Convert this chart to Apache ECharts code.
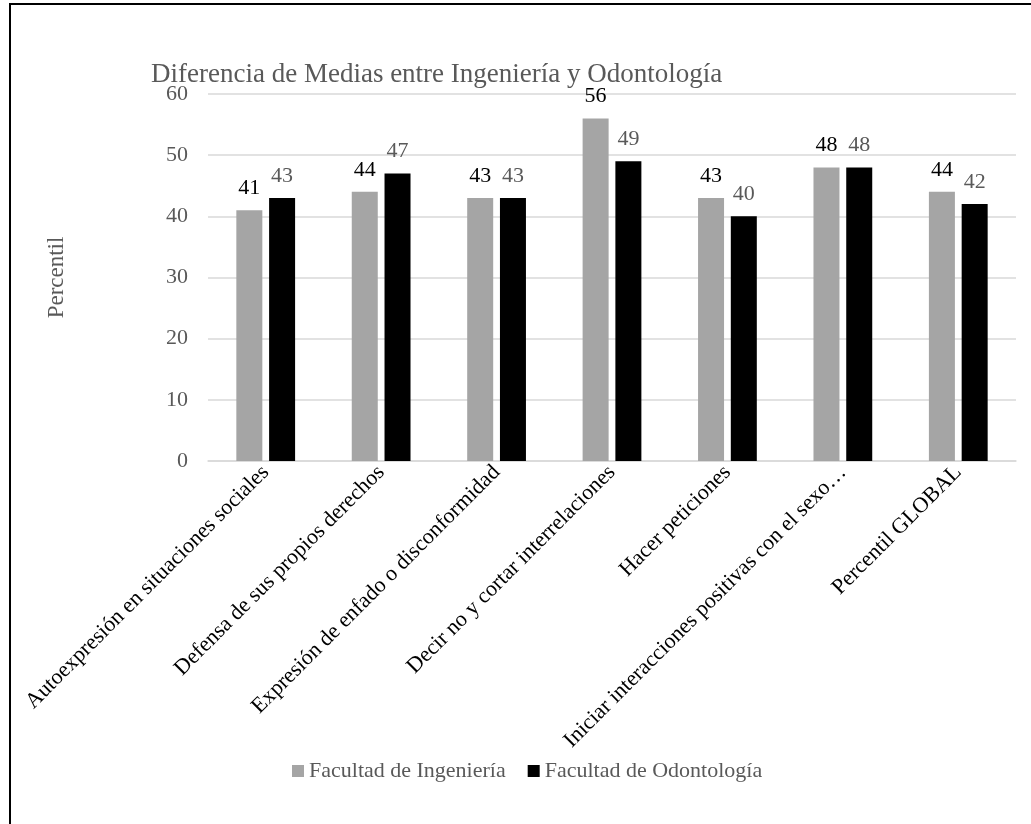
<!DOCTYPE html>
<html>
<head>
<meta charset="utf-8">
<script src="https://cdn.jsdelivr.net/npm/echarts@6/dist/echarts.min.js"></script>
<style>
  html, body { margin: 0; padding: 0; background: #fff; overflow: hidden; }
  .frame { position: absolute; left: 9px; top: 3px; width: 1200px; height: 1000px; border: 2px solid #000; }
  .chartHeight { position: absolute; left: 0; top: 0; width: 1031px; height: 824px; }
</style>
</head>
<body>
<div class="frame"></div>
<div class="chartHeight" id="chart"></div>
<script>
var categories = [
  "Autoexpresión en situaciones sociales",
  "Defensa de sus propios derechos",
  "Expresión de enfado o disconformidad",
  "Decir no y cortar interrelaciones",
  "Hacer peticiones",
  "Iniciar interacciones positivas con el sexo opuesto",
  "Percentil GLOBAL"
];
var ingenieria = [41, 44, 43, 56, 43, 48, 44];
var odontologia = [43, 47, 43, 49, 40, 48, 42];
var yTicks = { min: 0, max: 60, interval: 10 };

var serif = "Liberation Serif";
var myChart = echarts.init(document.getElementById("chart"));
myChart.setOption({
  animation: false,
  textStyle: { fontFamily: serif },
  title: {
    text: "Diferencia de Medias entre Ingeniería y Odontología",
    left: 146,
    top: 56,
    textStyle: { fontFamily: serif, fontSize: 27, fontWeight: "normal", color: "#595959" }
  },
  legend: {
    left: 287,
    top: 755,
    itemWidth: 12,
    itemHeight: 12,
    itemGap: 22,
    icon: "rect",
    textStyle: { fontFamily: serif, fontSize: 22, color: "#595959" },
    data: ["Facultad de Ingeniería", "Facultad de Odontología"]
  },
  grid: { left: 208, right: 15, top: 94, bottom: 363, containLabel: false },
  xAxis: {
    type: "category",
    data: categories,
    axisLine: { lineStyle: { color: "#d9d9d9", width: 1.5 } },
    axisTick: { show: false },
    axisLabel: {
      rotate: 45,
      interval: 0,
      margin: 8,
      fontFamily: serif,
      fontSize: 22,
      color: "#000",
      width: 396,
      overflow: "truncate",
      ellipsis: "…"
    }
  },
  yAxis: {
    type: "value",
    min: yTicks.min,
    max: yTicks.max,
    interval: yTicks.interval,
    name: "Percentil",
    nameLocation: "middle",
    nameGap: 140,
    nameTextStyle: { fontFamily: serif, fontSize: 23, color: "#595959" },
    axisLine: { show: false },
    axisTick: { show: false },
    axisLabel: { margin: 20, fontFamily: serif, fontSize: 22, color: "#595959" },
    splitLine: { lineStyle: { color: "#d9d9d9", width: 1.5 } }
  },
  series: [
    {
      name: "Facultad de Ingeniería",
      type: "bar",
      data: ingenieria,
      barWidth: 26,
      barGap: "26%",
      itemStyle: { color: "#a5a5a5" },
      label: { show: true, position: "top", distance: 11, fontFamily: serif, fontSize: 22, color: "#000" }
    },
    {
      name: "Facultad de Odontología",
      type: "bar",
      data: odontologia,
      barWidth: 26,
      barGap: "26%",
      itemStyle: { color: "#000" },
      label: { show: true, position: "top", distance: 11, fontFamily: serif, fontSize: 22, color: "#595959" }
    }
  ]
});
</script>
</body>
</html>
